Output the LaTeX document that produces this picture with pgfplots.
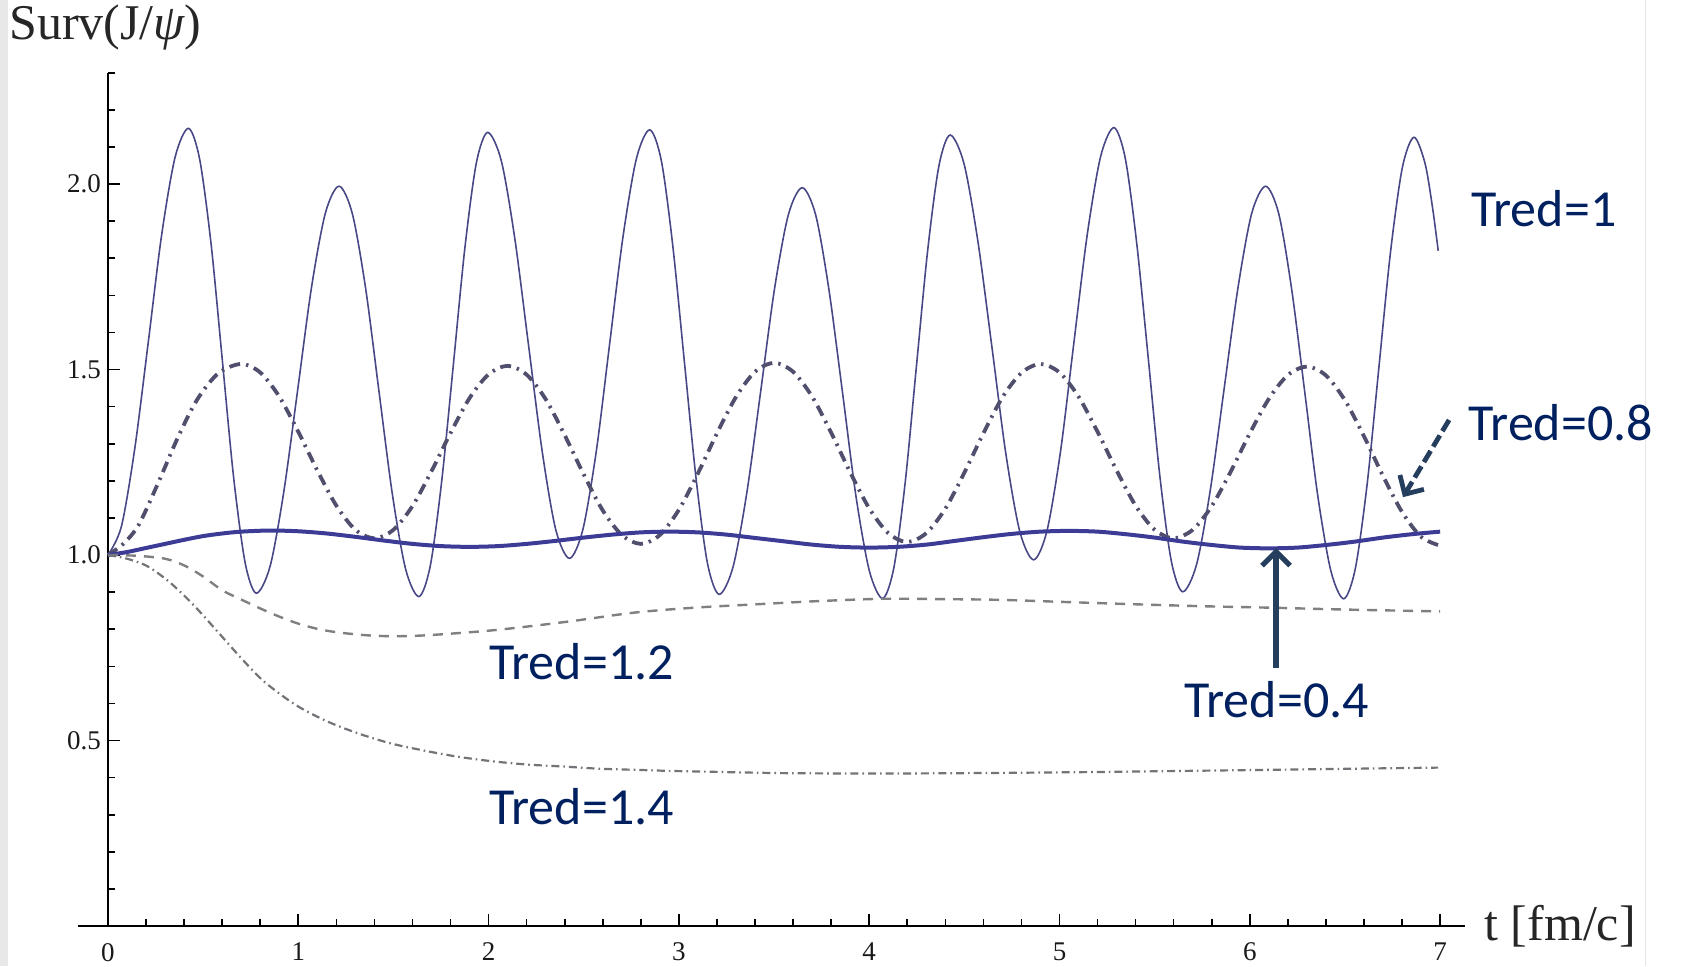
\documentclass[border=0pt]{standalone}
\usepackage{fontspec}
\setmainfont{Liberation Serif}
\newfontfamily\calibri{Carlito}
\usepackage{pgfplots}
\pgfplotsset{compat=1.18}
\usetikzlibrary{arrows.meta}

\definecolor{tredone}{RGB}{72,72,135}
\definecolor{tredeight}{RGB}{80,80,110}
\definecolor{tredfour}{RGB}{60,60,150}
\definecolor{tredtwelve}{RGB}{128,128,128}
\definecolor{tredfourteen}{RGB}{115,115,120}
\definecolor{annot}{RGB}{0,32,96}
\definecolor{arrowc}{RGB}{38,62,94}

\begin{document}
\begin{tikzpicture}
\begin{axis}[
  x=95.15pt, y=185.5pt,
  xmin=-0.16, xmax=7.13, ymin=0, ymax=2.30,
  axis lines=middle,
  axis line style={-, line width=1pt, black},
  clip=false,
  xtick={0,1,...,7},
  minor xtick={0.2,0.4,...,6.9},
  ytick={0.5,1,1.5,2}, yticklabels={0.5,1.0,1.5,2.0},
  minor ytick={0.1,0.2,...,2.25},
  tick align=inside,
  major tick length=6pt, minor tick length=3.5pt,
  tick style={black, line width=0.8pt},
  hide obscured x ticks=false, hide obscured y ticks=false,
  /pgf/number format/assume math mode=true,
  ticklabel style={font=\fontsize{13.5}{15}\selectfont, text=black!90},
  xticklabel style={yshift=-5pt},
]
% slide margin
\fill[black!9] (axis cs:-0.5675,-0.1078) rectangle (axis cs:-0.525,2.496);
\draw[black!10, line width=0.5pt] (axis cs:8.077,-0.1078) -- (axis cs:8.077,2.496);

% Tred = 1
\addplot[tredone, line width=0.8pt, smooth] coordinates {
(0,1.0)(0.0705,1.077)(0.141,1.288)(0.212,1.575)(0.282,1.863)(0.353,2.073)(0.423,2.150)
(0.482,2.066)(0.542,1.837)(0.601,1.524)(0.660,1.210)(0.720,0.981)(0.779,0.897)
(0.852,0.970)(0.924,1.171)(0.997,1.446)(1.069,1.720)(1.142,1.921)(1.214,1.994)
(1.284,1.920)(1.354,1.718)(1.424,1.441)(1.494,1.165)(1.564,0.962)(1.634,0.888)
(1.694,0.972)(1.754,1.201)(1.815,1.514)(1.875,1.826)(1.935,2.055)(1.995,2.139)
(2.067,2.062)(2.138,1.852)(2.210,1.565)(2.282,1.278)(2.353,1.068)(2.425,0.991)
(2.495,1.068)(2.566,1.280)(2.636,1.569)(2.706,1.857)(2.777,2.069)(2.847,2.146)
(2.908,2.062)(2.968,1.833)(3.029,1.520)(3.090,1.207)(3.150,0.978)(3.211,0.894)
(3.284,0.967)(3.357,1.168)(3.430,1.442)(3.502,1.716)(3.575,1.917)(3.648,1.990)
(3.719,1.916)(3.789,1.713)(3.860,1.437)(3.930,1.160)(4.001,0.957)(4.071,0.883)
(4.130,0.967)(4.189,1.195)(4.248,1.508)(4.307,1.820)(4.366,2.048)(4.425,2.132)
(4.498,2.055)(4.571,1.846)(4.645,1.560)(4.718,1.273)(4.791,1.064)(4.864,0.987)
(4.934,1.065)(5.005,1.278)(5.075,1.570)(5.145,1.861)(5.216,2.074)(5.286,2.152)
(5.346,2.068)(5.406,1.839)(5.467,1.527)(5.527,1.214)(5.587,0.985)(5.647,0.901)
(5.720,0.974)(5.792,1.174)(5.865,1.448)(5.938,1.721)(6.010,1.921)(6.083,1.994)
(6.152,1.920)(6.220,1.716)(6.289,1.438)(6.357,1.160)(6.426,0.957)(6.494,0.882)
(6.555,0.965)(6.617,1.193)(6.678,1.504)(6.739,1.815)(6.801,2.043)(6.862,2.126)
(6.92,2.057)(6.96,1.937)(6.99,1.82)
};

% Tred = 0.8
\addplot[tredeight, line width=1.9pt, smooth, dash pattern=on 5.5pt off 3pt on 1.2pt off 3pt] coordinates {
(0,1.0)(0.08,1.03)(0.16,1.08)(0.26,1.19)(0.37,1.32)(0.47,1.42)(0.58,1.49)(0.70,1.515)
(0.8,1.492)(0.9,1.427)(1.0,1.332)(1.1,1.228)(1.2,1.133)(1.3,1.068)(1.4,1.045)
(1.5,1.068)(1.6,1.132)(1.7,1.226)(1.8,1.329)(1.9,1.423)(2.0,1.487)(2.1,1.510)
(2.2,1.486)(2.3,1.420)(2.4,1.323)(2.5,1.217)(2.6,1.120)(2.7,1.054)(2.8,1.030)
(2.9,1.054)(3.0,1.122)(3.1,1.220)(3.2,1.328)(3.3,1.426)(3.4,1.494)(3.5,1.518)
(3.6,1.494)(3.7,1.427)(3.8,1.330)(3.9,1.223)(4.0,1.126)(4.1,1.059)(4.2,1.035)
(4.3,1.059)(4.4,1.125)(4.5,1.222)(4.6,1.328)(4.7,1.425)(4.8,1.491)(4.9,1.515)
(5.0,1.492)(5.1,1.427)(5.2,1.332)(5.3,1.228)(5.4,1.133)(5.5,1.068)(5.6,1.045)
(5.7,1.068)(5.8,1.132)(5.9,1.225)(6.0,1.328)(6.1,1.421)(6.2,1.485)(6.3,1.508)
(6.4,1.484)(6.5,1.417)(6.6,1.320)(6.7,1.213)(6.8,1.116)(6.9,1.049)(7.0,1.025)
};

% Tred = 0.4
\addplot[tredfour, line width=2pt, smooth] coordinates {
(0,1.0)(0.1,1.008)(0.2,1.019)(0.3,1.030)(0.4,1.041)(0.5,1.051)(0.6,1.058)(0.7,1.063)(0.85,1.066)
(1.0,1.064)(1.15,1.058)(1.3,1.049)(1.45,1.039)(1.6,1.030)(1.75,1.024)(1.9,1.022)
(2.05,1.024)(2.2,1.030)(2.35,1.038)(2.5,1.047)(2.65,1.055)(2.8,1.061)(2.95,1.063)
(3.1,1.061)(3.25,1.055)(3.4,1.046)(3.55,1.037)(3.7,1.028)(3.85,1.022)(4.0,1.020)
(4.15,1.022)(4.3,1.028)(4.45,1.038)(4.6,1.048)(4.75,1.057)(4.9,1.063)(5.05,1.065)
(5.2,1.063)(5.35,1.056)(5.5,1.047)(5.65,1.036)(5.8,1.027)(5.95,1.020)(6.1,1.018)
(6.25,1.020)(6.4,1.027)(6.55,1.036)(6.7,1.047)(6.85,1.056)(7.0,1.063)
};

% Tred = 1.2
\addplot[tredtwelve, line width=1.2pt, smooth, dash pattern=on 5pt off 4pt] coordinates {
(0,1.0)(0.15,0.998)(0.3,0.99)(0.4,0.972)(0.5,0.942)(0.6,0.905)(0.7,0.88)(0.8,0.856)
(0.9,0.834)(1.0,0.815)(1.1,0.801)(1.2,0.792)(1.35,0.784)(1.5,0.781)(1.65,0.783)
(1.8,0.788)(2.0,0.796)(2.2,0.807)(2.44,0.822)(2.77,0.845)(3.08,0.858)(3.4,0.867)
(3.7,0.875)(4.07,0.882)(4.4,0.881)(4.7,0.879)(5.05,0.873)(5.41,0.867)(5.75,0.862)
(6.11,0.858)(6.5,0.853)(7.0,0.848)
};

% Tred = 1.4
\addplot[tredfourteen, line width=1.1pt, smooth, dash pattern=on 4pt off 2pt on 0.8pt off 2pt] coordinates {
(0,1.0)(0.1,0.99)(0.21,0.969)(0.33,0.924)(0.45,0.865)(0.575,0.794)(0.70,0.722)
(0.82,0.659)(0.986,0.596)(1.15,0.552)(1.31,0.520)(1.48,0.493)(1.64,0.475)(1.83,0.457)
(2.02,0.444)(2.21,0.435)(2.39,0.430)(2.58,0.424)(2.77,0.421)(2.96,0.418)(3.15,0.416)
(3.33,0.414)(3.57,0.412)(4.0,0.411)(4.5,0.412)(5.17,0.415)(5.8,0.419)(6.4,0.423)(6.99,0.427)
};

% axis titles
\node[anchor=west, inner sep=0, font=\fontsize{25}{30}\selectfont, text=black!85]
  at (axis cs:-0.52,2.423) {Surv(J/{\itshape ψ})};
\node[anchor=west, inner sep=0, font=\fontsize{25}{30}\selectfont, text=black!85]
  at (axis cs:7.231,0.0) {t [fm/c]};

% curve annotations
\begin{scope}[every node/.style={anchor=west, inner sep=0, text=annot,
    font=\calibri\fontsize{26}{31}\selectfont}]
\node at (axis cs:7.162,1.933) {Tred=1};
\node at (axis cs:7.147,1.358) {Tred=0.8};
\node at (axis cs:2.002,0.712) {Tred=1.2};
\node at (axis cs:2.002,0.323) {Tred=1.4};
\node at (axis cs:5.654,0.609) {Tred=0.4};
\end{scope}
\draw[arrowc, line width=2.6pt, -{Straight Barb[length=7pt,width=14pt]}]
  (axis cs:6.138,0.695) -- (axis cs:6.138,1.019);
\draw[arrowc, line width=2.4pt, dash pattern=on 6.5pt off 2.5pt,
  -{Straight Barb[length=7pt,width=14pt]}]
  (axis cs:7.047,1.364) -- (axis cs:6.805,1.156);

\coordinate (bbsw) at (axis cs:-0.5675,-0.1078);
\coordinate (bbne) at (axis cs:8.3447,2.496);
\end{axis}
\pgfresetboundingbox
\useasboundingbox (bbsw) rectangle (bbne);
\end{tikzpicture}
\end{document}
